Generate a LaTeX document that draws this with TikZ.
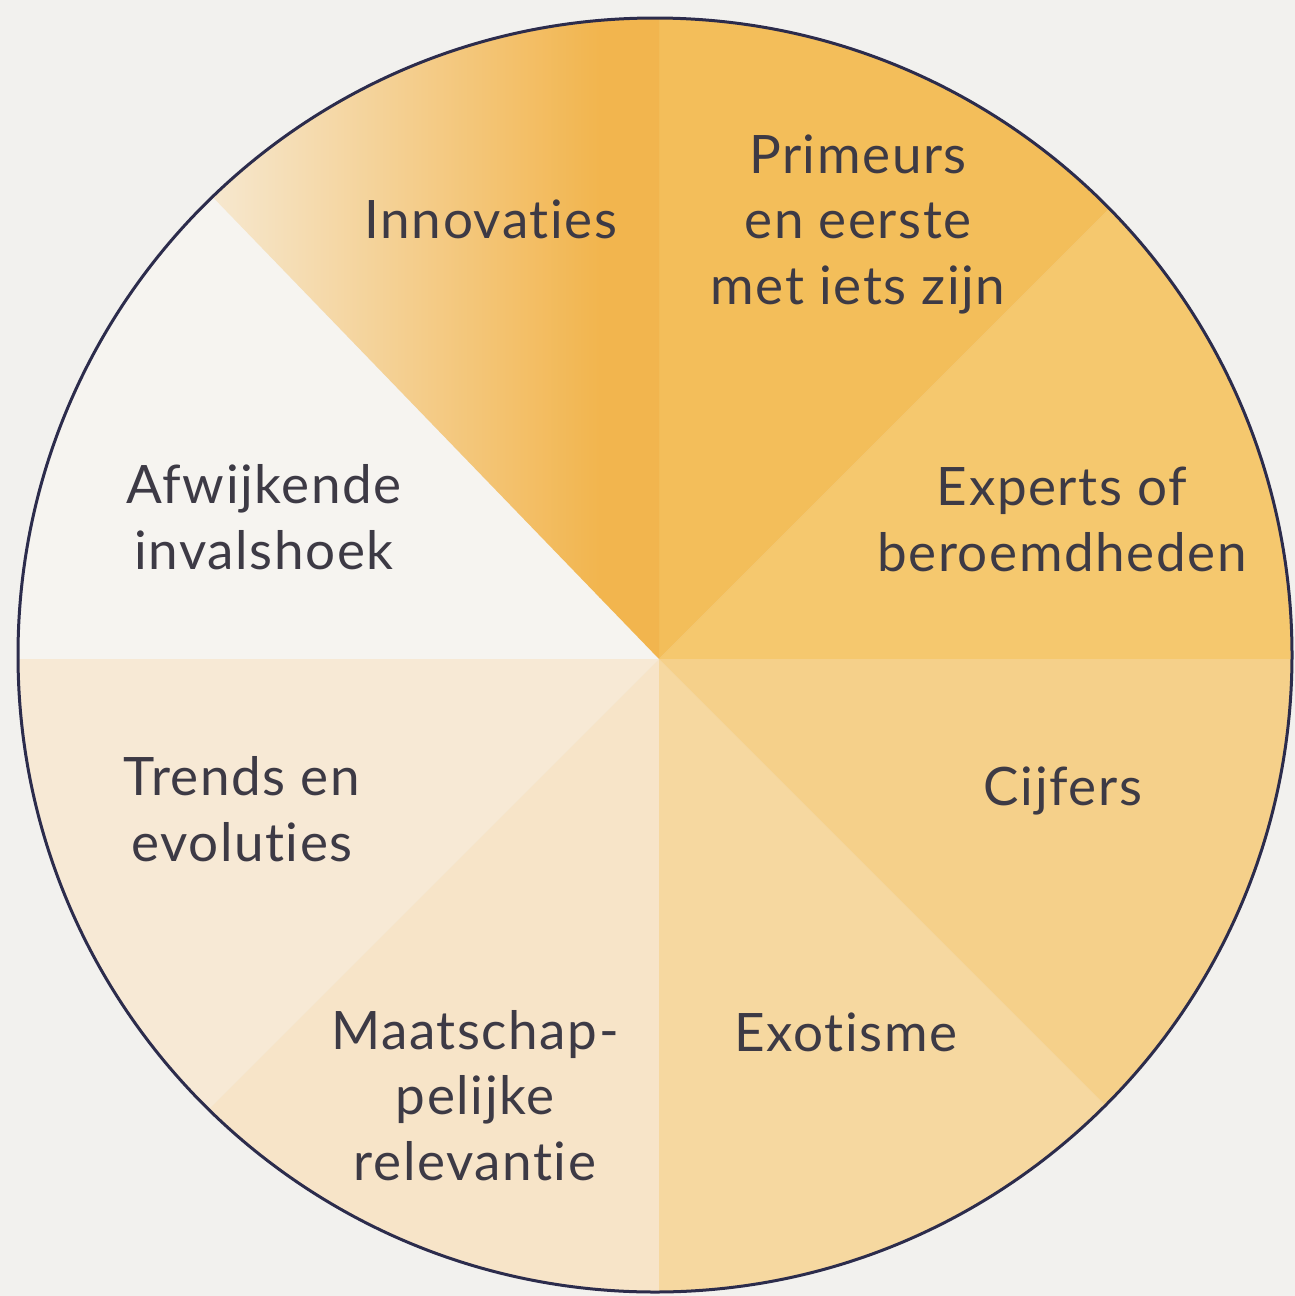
\documentclass[tikz,border=0pt]{standalone}
\usepackage{fontspec}
\setmainfont{Lato}[Ligatures=NoCommon, LetterSpace=3]
\definecolor{bgc}{HTML}{F2F1EE}
\definecolor{ringc}{HTML}{2C2C4C}
\definecolor{txtc}{HTML}{3D3A45}
\definecolor{cExperts}{HTML}{F5C86E}
\definecolor{cPrimeurs}{HTML}{F3BE5A}
\definecolor{cInnoA}{HTML}{F6E8D0}
\definecolor{cInnoM}{HTML}{F4D190}
\definecolor{cInnoB}{HTML}{F2B54E}
\definecolor{cAfw}{HTML}{F6F4F0}
\definecolor{cTrends}{HTML}{F7E9D5}
\definecolor{cMaat}{HTML}{F7E4C8}
\definecolor{cExo}{HTML}{F6D8A0}
\definecolor{cCijf}{HTML}{F5D08A}
\tikzset{
  lbl/.style={text=txtc, font=\fontsize{53}{65.5}\selectfont, align=center, inner sep=0pt, anchor=base},
}
\begin{document}
\begin{tikzpicture}[x=1pt,y=-1pt]
\useasboundingbox (0,0) rectangle (1295,1296);
\fill[bgc] (0,0) rectangle (1295,1296);
\coordinate (C) at (659,659);
\coordinate (O) at (655,655);
\begin{scope}
  \clip (O) circle (637);
  \fill[cExperts]  (C) -- (1700,659) -- (1400,-82) -- cycle;
  \fill[cPrimeurs] (C) -- (1400,-82) -- (659,-400) -- cycle;
  \fill[cAfw]      (C) -- (-50,-75) -- (-400,659) -- cycle;
  \fill[cTrends]   (C) -- (-400,659) -- (-82,1400) -- cycle;
  \fill[cMaat]     (C) -- (-82,1400) -- (659,1700) -- cycle;
  \fill[cExo]      (C) -- (659,1700) -- (1400,1400) -- cycle;
  \fill[cCijf]     (C) -- (1400,1400) -- (1700,659) -- cycle;
  \begin{scope}
    \clip (C) -- (659,-400) -- (-50,-75) -- cycle;
    \shade[left color=cInnoA, middle color=cInnoM, right color=cInnoB] (210,0) rectangle (600,700);
    \fill[cInnoB] (599,0) rectangle (660,700);
  \end{scope}
\end{scope}
\draw[ringc, line width=3pt] (O) circle (637);
\node[lbl] (innov) at (491,238) {Innovaties};
\node[lbl] (prim) at (858,304) {Primeurs\\en eerste\\met iets zijn};
\node[lbl] (exp) at (1062,571) {Experts of\\beroemdheden};
\node[lbl] (cijf) at (1063,805) {Cijfers};
\node[lbl] (exo) at (846,1051) {Exotisme};
\node[lbl] (maat) at (475,1180) {Maatschap-\\pelijke\\relevantie};
\node[lbl] (trend) at (242,861) {Trends en\\evoluties};
\node[lbl] (afw) at (264,569) {Afwijkende\\invalshoek};
\end{tikzpicture}
\end{document}
